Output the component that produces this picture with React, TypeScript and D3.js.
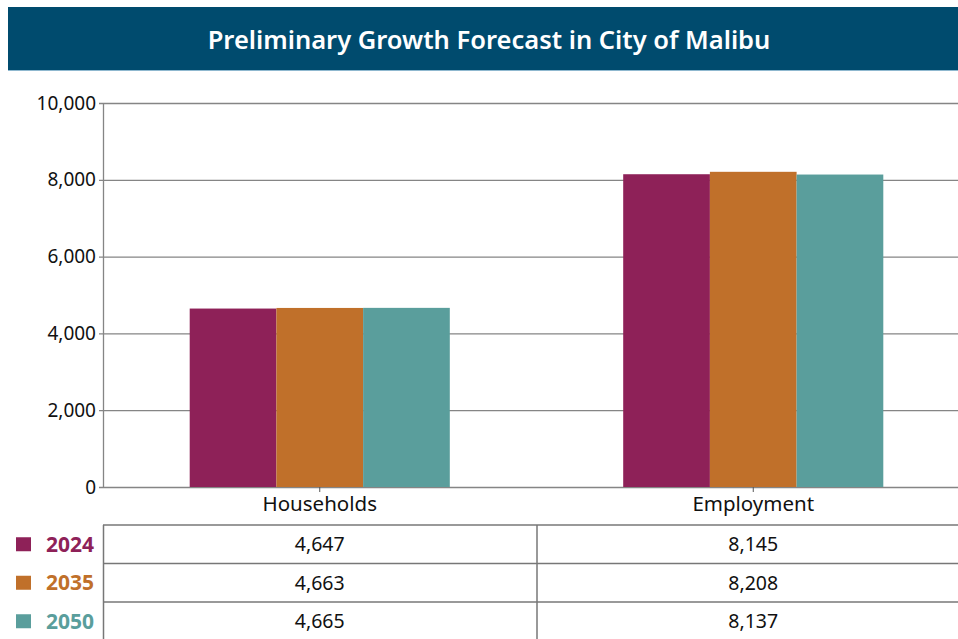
import { useEffect, useRef } from "react"
import * as d3 from "d3"

const categories = ["Households", "Employment"]
const years = ["2024", "2035", "2050"]
const values2024 = [4647, 8145]
const values2035 = [4663, 8208]
const values2050 = [4665, 8137]
const yTicks = [0, 2000, 4000, 6000, 8000, 10000]
const title = "Preliminary Growth Forecast in City of Malibu"

const colors = ["#8E2158", "#C0702A", "#5A9E9C"]
const FONT = "'Noto Sans', 'Open Sans', sans-serif"

export default function App() {
  const svgRef = useRef<SVGSVGElement>(null)

  useEffect(() => {
    const width = 958
    const height = 639
    const svg = d3.select(svgRef.current)
    svg.selectAll("*").remove()
    svg.attr("width", width).attr("height", height)

    const series = [values2024, values2035, values2050]

    // Title banner
    svg.append("rect")
      .attr("x", 8).attr("y", 7)
      .attr("width", width - 8).attr("height", 63)
      .attr("fill", "#004B6E")
    svg.append("line")
      .attr("x1", 8).attr("x2", width)
      .attr("y1", 70.5).attr("y2", 70.5)
      .attr("stroke", "#8FB8CF").attr("stroke-width", 1)
    svg.append("text")
      .attr("x", 489).attr("y", 40)
      .attr("dy", "0.35em")
      .attr("text-anchor", "middle")
      .attr("font-family", FONT)
      .attr("font-weight", 600)
      .attr("font-size", "25.5px")
      .attr("fill", "white")
      .text(title)

    // Scales
    const x0 = d3.scaleBand<string>()
      .domain(categories)
      .range([103, 970])
      .paddingInner(0.4)
      .paddingOuter(0.2)
    const x1 = d3.scaleBand<string>()
      .domain(years)
      .range([0, x0.bandwidth()])
    const y = d3.scaleLinear().domain([0, 10000]).range([487, 103])

    // Gridlines
    svg.append("g")
      .selectAll("line")
      .data(yTicks)
      .enter()
      .append("line")
      .attr("x1", 99).attr("x2", width)
      .attr("y1", d => y(d) + 0.5).attr("y2", d => y(d) + 0.5)
      .attr("stroke", "#858585").attr("stroke-width", 1.3)

    // Y axis line
    svg.append("line")
      .attr("x1", 103.5).attr("x2", 103.5)
      .attr("y1", y(10000)).attr("y2", y(0))
      .attr("stroke", "#858585").attr("stroke-width", 1.3)

    // Y tick labels
    svg.append("g")
      .selectAll("text")
      .data(yTicks)
      .enter()
      .append("text")
      .attr("x", 96).attr("y", d => y(d))
      .attr("dy", "0.35em")
      .attr("text-anchor", "end")
      .attr("font-family", FONT)
      .attr("font-size", "19px")
      .attr("fill", "#111")
      .text(d => d3.format(",")(d))

    // Bars
    const groups = svg.append("g")
      .selectAll("g")
      .data(categories)
      .enter()
      .append("g")
      .attr("transform", d => `translate(${x0(d)},0)`)

    groups.selectAll("rect")
      .data((_, ci) => years.map((yr, si) => ({ yr, v: series[si][ci], si })))
      .enter()
      .append("rect")
      .attr("x", d => x1(d.yr)!)
      .attr("width", x1.bandwidth())
      .attr("y", d => y(d.v))
      .attr("height", d => y(0) - y(d.v))
      .attr("fill", d => colors[d.si])

    // Category ticks and labels
    categories.forEach(c => {
      const cx = x0(c)! + x0.bandwidth() / 2
      svg.append("line")
        .attr("x1", cx).attr("x2", cx)
        .attr("y1", y(0)).attr("y2", y(0) + 5)
        .attr("stroke", "#555")
      svg.append("text")
        .attr("x", cx).attr("y", 504)
        .attr("dy", "0.35em")
        .attr("text-anchor", "middle")
        .attr("font-family", FONT)
        .attr("font-size", "20.5px")
        .attr("fill", "#111")
        .text(c)
    })

    // Data table
    const rowTop = 525
    const rowH = 38.5
    const colEdges = [103.5, 537]
    const table = svg.append("g")
    years.forEach((yr, i) => {
      const ty = rowTop + i * rowH
      table.append("line")
        .attr("x1", 103).attr("x2", width)
        .attr("y1", ty).attr("y2", ty)
        .attr("stroke", "#777").attr("stroke-width", 1.5)
      // legend square + label
      table.append("rect")
        .attr("x", 16).attr("y", ty + rowH / 2 - 7)
        .attr("width", 15).attr("height", 14)
        .attr("fill", colors[i])
      table.append("text")
        .attr("x", 46).attr("y", ty + rowH / 2)
        .attr("dy", "0.35em")
        .attr("font-family", FONT)
        .attr("font-weight", 700)
        .attr("font-size", "21px")
        .attr("fill", colors[i])
        .text(yr)
      categories.forEach((c, ci) => {
        table.append("text")
          .attr("x", x0(c)! + x0.bandwidth() / 2)
          .attr("y", ty + rowH / 2)
          .attr("dy", "0.35em")
          .attr("text-anchor", "middle")
          .attr("font-family", FONT)
          .attr("font-size", "19.5px")
          .attr("fill", "#111")
          .text(d3.format(",")(series[i][ci]))
      })
    })
    colEdges.forEach(cx => {
      table.append("line")
        .attr("x1", cx).attr("x2", cx)
        .attr("y1", rowTop).attr("y2", height)
        .attr("stroke", "#777").attr("stroke-width", 1.5)
    })
  }, [])

  return (
    <div style={{ position: "absolute", left: 0, top: 0, background: "white" }}>
      <svg ref={svgRef}></svg>
    </div>
  )
}
